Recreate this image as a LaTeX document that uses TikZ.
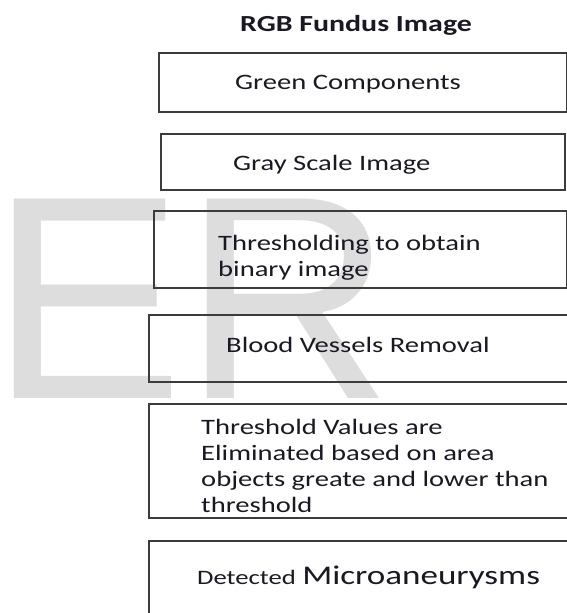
\documentclass[tikz,border=0pt]{standalone}
\usepackage{fontspec}
\setmainfont{Carlito}[FakeStretch=1.3]
\newfontfamily\wmfont{Liberation Sans}
\definecolor{ink}{RGB}{25,25,35}
\definecolor{boxline}{RGB}{60,60,60}
\definecolor{wmgray}{RGB}{221,221,221}
\tikzset{
  stagebox/.style={draw=boxline, line width=1.8pt, inner sep=0pt, anchor=north west},
  % anchor base west of a multi-line label sits on its last line
  lbl/.style={text=ink, inner sep=0pt, anchor=base west, align=left,
              font=\fontsize{22}{26}\selectfont},
  heading/.style={text=ink, inner sep=0pt, font=\fontsize{23}{26}\selectfont\bfseries},
  wmark/.style={text=wmgray, inner sep=0pt, anchor=base west,
                font=\wmfont\fontsize{290}{290}\selectfont},
}
\begin{document}
\begin{tikzpicture}[x=1pt,y=-1pt]
  \clip (0,0) rectangle (567,613);
  \fill[white] (0,0) rectangle (567,613);

  % background watermark letters
  \node[wmark] (wm) at (-10,398) {ER};

  % title
  \node[heading] (title) at (356,25) {RGB Fundus Image};

  % processing stages
  \node[stagebox, minimum width=408pt, minimum height=59pt] (s1) at (158,52) {};
  \node[lbl] (t1) at (235,89) {Green Components};

  \node[stagebox, minimum width=404pt, minimum height=56pt] (s2) at (160,133) {};
  \node[lbl] (t2) at (233,170) {Gray Scale Image};

  \node[stagebox, minimum width=413pt, minimum height=77pt] (s3) at (153,210) {};
  \node[lbl] (t3) at (218,276) {Thresholding to obtain\\binary image};

  \node[stagebox, minimum width=432pt, minimum height=67pt] (s4) at (148,314) {};
  \node[lbl] (t4) at (226,352) {Blood Vessels Removal};

  \node[stagebox, minimum width=432pt, minimum height=114pt] (s5) at (148,403) {};
  \node[lbl] (t5) at (201,512) {Threshold Values are\\Eliminated based on area\\objects greate and lower than\\threshold};

  \node[stagebox, minimum width=432pt, minimum height=90pt] (s6) at (148,540) {};
  \node[lbl] (t6) at (197,584) {{\fontsize{20.5}{24}\selectfont Detected} {\fontsize{27}{30}\selectfont Microaneurysms}};
\end{tikzpicture}
\end{document}
